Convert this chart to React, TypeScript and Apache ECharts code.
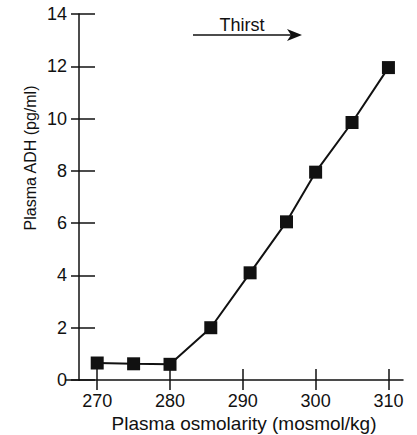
import React, { useEffect, useRef } from "react";
import * as echarts from "echarts";

const osmolarity = [270, 275, 280, 285.6, 291, 296, 300, 305, 310];
const adh = [0.65, 0.62, 0.6, 2.0, 4.1, 6.05, 7.95, 9.85, 11.95];
const xTicks = [270, 280, 290, 300, 310];
const yTitle = "Plasma ADH (pg/ml)";
const xTitle = "Plasma osmolarity (mosmol/kg)";
const note = "Thirst";

const FONT = "'Liberation Sans', Arial, Helvetica, sans-serif";
const INK = "#111";

export default function App() {
  const ref = useRef<HTMLDivElement>(null);
  useEffect(() => {
    if (!ref.current) return;
    const chart = echarts.init(ref.current, undefined, { renderer: "svg" });
    const xBase = {
      type: "value" as const,
      min: 267.5,
      max: 312,
      splitLine: { show: false },
    };
    const yBase = {
      type: "value" as const,
      min: 0,
      max: 14,
      interval: 2,
      splitLine: { show: false },
    };
    chart.setOption({
      animation: false,
      backgroundColor: "#fff",
      grid: { left: 79, right: 14, top: 14, bottom: 55 },
      xAxis: [
        {
          ...xBase,
          axisLine: { show: true, lineStyle: { color: INK, width: 1.5 } },
          axisTick: {
            show: true,
            length: 10,
            customValues: xTicks,
            lineStyle: { color: INK, width: 1.5 },
          },
          axisLabel: {
            show: true,
            customValues: xTicks,
            margin: 12,
            color: INK,
            fontSize: 18,
            fontFamily: FONT,
          },
        },
        {
          ...xBase,
          position: "bottom",
          axisLine: { show: false },
          axisTick: {
            show: true,
            inside: true,
            length: 11,
            customValues: xTicks,
            lineStyle: { color: INK, width: 1.5 },
          },
          axisLabel: { show: false },
        },
      ],
      yAxis: [
        {
          ...yBase,
          axisLine: { show: true, lineStyle: { color: INK, width: 1.5 } },
          axisTick: { show: true, length: 8, lineStyle: { color: INK, width: 1.5 } },
          axisLabel: {
            show: true,
            margin: 12,
            color: INK,
            fontSize: 18,
            fontFamily: FONT,
          },
        },
        {
          ...yBase,
          position: "left",
          axisLine: { show: false },
          axisTick: {
            show: true,
            inside: true,
            length: 16,
            lineStyle: { color: INK, width: 1.5 },
          },
          axisLabel: { show: false },
        },
      ],
      series: [
        {
          type: "line",
          data: osmolarity.map((x, i) => [x, adh[i]]),
          symbol: "rect",
          symbolSize: 13,
          itemStyle: { color: INK },
          lineStyle: { color: INK, width: 2 },
        },
      ],
      graphic: [
        {
          type: "line",
          shape: { x1: 65, y1: 380, x2: 80, y2: 380 },
          style: { stroke: INK, lineWidth: 1.5 },
        },
        {
          type: "text",
          x: 30,
          y: 158,
          rotation: Math.PI / 2,
          style: {
            text: yTitle,
            fill: INK,
            font: `16px ${FONT}`,
            align: "center",
            verticalAlign: "middle",
          },
        },
        {
          type: "text",
          x: 244,
          y: 423,
          style: {
            text: xTitle,
            fill: INK,
            font: `19px ${FONT}`,
            align: "center",
            verticalAlign: "middle",
          },
        },
        {
          type: "text",
          x: 242,
          y: 25,
          style: {
            text: note,
            fill: INK,
            font: `18px ${FONT}`,
            align: "center",
            verticalAlign: "middle",
          },
        },
        {
          type: "line",
          shape: { x1: 193, y1: 35, x2: 292, y2: 35 },
          style: { stroke: INK, lineWidth: 1.5 },
        },
        {
          type: "polygon",
          shape: { points: [[287, 29], [302, 35], [287, 41], [291, 35]] },
          style: { fill: INK },
        },
      ],
    });
    return () => chart.dispose();
  }, []);
  return <div ref={ref} style={{ width: 417, height: 435, position: "absolute", left: 0, top: 0 }} />;
}
